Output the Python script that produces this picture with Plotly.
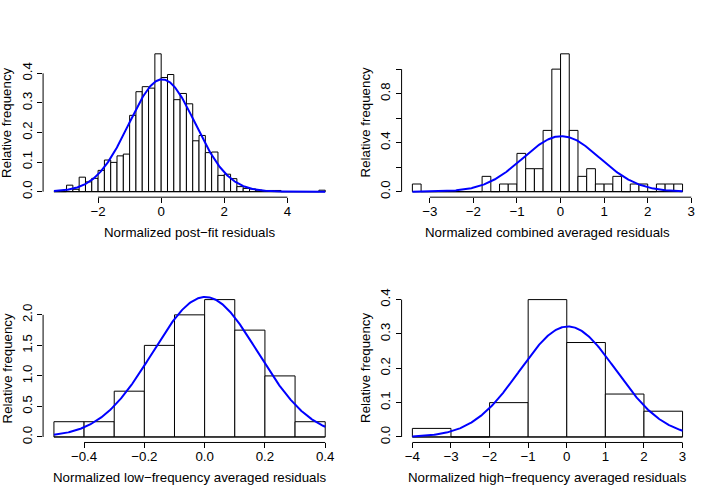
import numpy as np
import plotly.graph_objects as go

# ---------------- data ----------------
# Panel 1: normalized post-fit residuals (density per bin of width 0.2)
p1_break_start = -3.4
p1_bin_width = 0.2
p1_density = [0.0, 0.0, 0.022, 0.008, 0.049, 0.033, 0.045, 0.072, 0.107, 0.099,
              0.121, 0.127, 0.258, 0.338, 0.355, 0.350, 0.466, 0.386, 0.396, 0.311,
              0.332, 0.297, 0.172, 0.190, 0.132, 0.134, 0.055, 0.059, 0.044, 0.017,
              0.011, 0.009, 0.005, 0.004, 0.004, 0.004, 0.0, 0.0, 0.0, 0.0,
              0.0, 0.0, 0.005]
p1_fit_mean, p1_fit_sd = 0.03, 1.05
p1_xticks = [-2, 0, 2, 4]
p1_yticks = [0.0, 0.1, 0.2, 0.3, 0.4]
p1_yticklabels = ["0.0", "0.1", "0.2", "0.3", "0.4"]

# Panel 2: normalized combined averaged residuals (bin width 0.2)
p2_break_start = -3.4
p2_bin_width = 0.2
p2_density = [0.0625, 0, 0, 0, 0, 0, 0, 0, 0.125, 0,
              0.0625, 0.0625, 0.3125, 0.1875, 0.1875, 0.5, 1.0, 1.125, 0.5, 0.125,
              0.1875, 0.0625, 0.0625, 0.125, 0, 0.0625, 0.0625, 0, 0.0625, 0.0625,
              0.0625]
p2_fit_mean, p2_fit_sd = 0.02, 0.88
p2_xticks = [-3, -2, -1, 0, 1, 2, 3]
p2_yticks = [0.0, 0.2, 0.4, 0.6, 0.8, 1.0]
p2_yticklabels = ["0.0", "", "0.4", "", "0.8", ""]

# Panel 3: normalized low-frequency averaged residuals (bin width 0.1)
p3_break_start = -0.5
p3_bin_width = 0.1
p3_density = [0.25, 0.25, 0.75, 1.5, 2.0, 2.25, 1.75, 1.0, 0.25]
p3_fit_mean, p3_fit_sd = 0.002, 0.174
p3_xticks = [-0.4, -0.2, 0.0, 0.2, 0.4]
p3_xticklabels = ["\u22120.4", "\u22120.2", "0.0", "0.2", "0.4"]
p3_yticks = [0.0, 0.5, 1.0, 1.5, 2.0]
p3_yticklabels = ["0.0", "0.5", "1.0", "1.5", "2.0"]

# Panel 4: normalized high-frequency averaged residuals (bin width 1)
p4_break_start = -4
p4_bin_width = 1
p4_density = [0.025, 0.0, 0.1, 0.4, 0.275, 0.125, 0.075]
p4_fit_mean, p4_fit_sd = 0.03, 1.24
p4_xticks = [-4, -3, -2, -1, 0, 1, 2, 3]
p4_yticks = [0.0, 0.1, 0.2, 0.3, 0.4]
p4_yticklabels = ["0.0", "0.1", "0.2", "0.3", "0.4"]

x_titles = ["Normalized post\u2212fit residuals",
            "Normalized combined averaged residuals",
            "Normalized low\u2212frequency averaged residuals",
            "Normalized high\u2212frequency averaged residuals"]
y_title = "Relative frequency"

# ---------------- layout geometry ----------------
W, H = 718, 498
FONT = "Liberation Sans, Arial, Helvetica, sans-serif"
FS = 13.3
col_px = [(43.2, 337.0), (402.7, 695.3)]   # window pixels of plot regions
row_px = [(43.0, 194.3), (292.8, 443.6)]

panels = [
    dict(start=p1_break_start, w=p1_bin_width, d=p1_density, mu=p1_fit_mean, sd=p1_fit_sd,
         xt=p1_xticks, xl=None, yt=p1_yticks, yl=p1_yticklabels, r=0, c=0),
    dict(start=p2_break_start, w=p2_bin_width, d=p2_density, mu=p2_fit_mean, sd=p2_fit_sd,
         xt=p2_xticks, xl=None, yt=p2_yticks, yl=p2_yticklabels, r=0, c=1),
    dict(start=p3_break_start, w=p3_bin_width, d=p3_density, mu=p3_fit_mean, sd=p3_fit_sd,
         xt=p3_xticks, xl=p3_xticklabels, yt=p3_yticks, yl=p3_yticklabels, r=1, c=0),
    dict(start=p4_break_start, w=p4_bin_width, d=p4_density, mu=p4_fit_mean, sd=p4_fit_sd,
         xt=p4_xticks, xl=None, yt=p4_yticks, yl=p4_yticklabels, r=1, c=1),
]


def px_x(v):
    return v / W


def px_y(v):
    return (H - v) / H


fig = go.Figure()
shapes = []
annotations = []

for i, p in enumerate(panels):
    k = "" if i == 0 else str(i + 1)
    xa, ya = "x" + k, "y" + k
    dens = np.array(p["d"], dtype=float)
    n = len(dens)
    edges = p["start"] + p["w"] * np.arange(n + 1)
    centers = (edges[:-1] + edges[1:]) / 2
    lo, hi = edges[0], edges[-1]
    ymax = dens.max()

    # baseline (zero-height bins drawn as flat rects in R)
    fig.add_trace(go.Scatter(x=[lo, hi], y=[0, 0], mode="lines",
                             line=dict(color="black", width=1),
                             xaxis=xa, yaxis=ya, showlegend=False, hoverinfo="skip"))
    fig.add_trace(go.Bar(x=centers, y=dens, width=p["w"],
                         marker=dict(color="white", line=dict(color="black", width=1)),
                         xaxis=xa, yaxis=ya, showlegend=False))
    xs = np.linspace(lo, hi, 400)
    ys = np.exp(-0.5 * ((xs - p["mu"]) / p["sd"]) ** 2) / (p["sd"] * np.sqrt(2 * np.pi))
    fig.add_trace(go.Scatter(x=xs, y=ys, mode="lines",
                             line=dict(color="#0000FF", width=2),
                             xaxis=xa, yaxis=ya, showlegend=False))

    x0p, x1p = col_px[p["c"]]
    y0p, y1p = row_px[p["r"]]
    xdom = [px_x(x0p), px_x(x1p)]
    ydom = [px_y(y1p), px_y(y0p)]
    xr = [lo - 0.04 * (hi - lo), hi + 0.04 * (hi - lo)]
    yr = [-0.04 * ymax, 1.04 * ymax]

    xaxis = dict(domain=xdom, range=xr, anchor=ya, showline=False, showgrid=False,
                 zeroline=False, ticks="outside", ticklen=5, tickwidth=1, tickcolor="black",
                 tickvals=p["xt"], tickfont=dict(family=FONT, size=FS, color="black"),
                 ticklabelstandoff=-3, fixedrange=True)
    if p["xl"] is not None:
        xaxis["ticktext"] = p["xl"]
    yaxis = dict(domain=ydom, range=yr, anchor=xa, showline=False, showgrid=False,
                 zeroline=False, ticks="outside", ticklen=5, tickwidth=1, tickcolor="black",
                 tickvals=p["yt"], ticktext=p["yl"], tickangle=-90,
                 tickfont=dict(family=FONT, size=FS, color="black"), fixedrange=True)
    fig.update_layout({("xaxis" + k): xaxis, ("yaxis" + k): yaxis})

    # R-style axis lines spanning first..last tick
    shapes.append(dict(type="line", xref=xa, yref=ya + " domain",
                       x0=p["xt"][0], x1=p["xt"][-1], y0=0, y1=0,
                       line=dict(color="black", width=1)))
    shapes.append(dict(type="line", xref=xa + " domain", yref=ya,
                       x0=0, x1=0, y0=p["yt"][0], y1=p["yt"][-1],
                       line=dict(color="black", width=1)))

    # axis titles
    annotations.append(dict(text=x_titles[i], xref="paper", yref="paper",
                            x=px_x((x0p + x1p) / 2), y=px_y(y1p + 36),
                            xanchor="center", yanchor="middle", showarrow=False,
                            font=dict(family=FONT, size=FS, color="black")))
    annotations.append(dict(text=y_title, xref="paper", yref="paper",
                            x=px_x(x0p - 36), y=px_y((y0p + y1p) / 2),
                            xanchor="center", yanchor="middle", textangle=-90,
                            showarrow=False,
                            font=dict(family=FONT, size=FS, color="black")))

fig.update_layout(width=W, height=H, margin=dict(l=0, r=0, t=0, b=0),
                  paper_bgcolor="white", plot_bgcolor="white",
                  bargap=0, shapes=shapes, annotations=annotations,
                  font=dict(family=FONT, size=FS, color="black"))

# remove the default 8px page margin so the figure fills the window exactly
fig.write_html("out.html",
               config={"displayModeBar": False, "staticPlot": True},
               post_script="document.body.style.margin='0';document.body.style.overflow='hidden';")
